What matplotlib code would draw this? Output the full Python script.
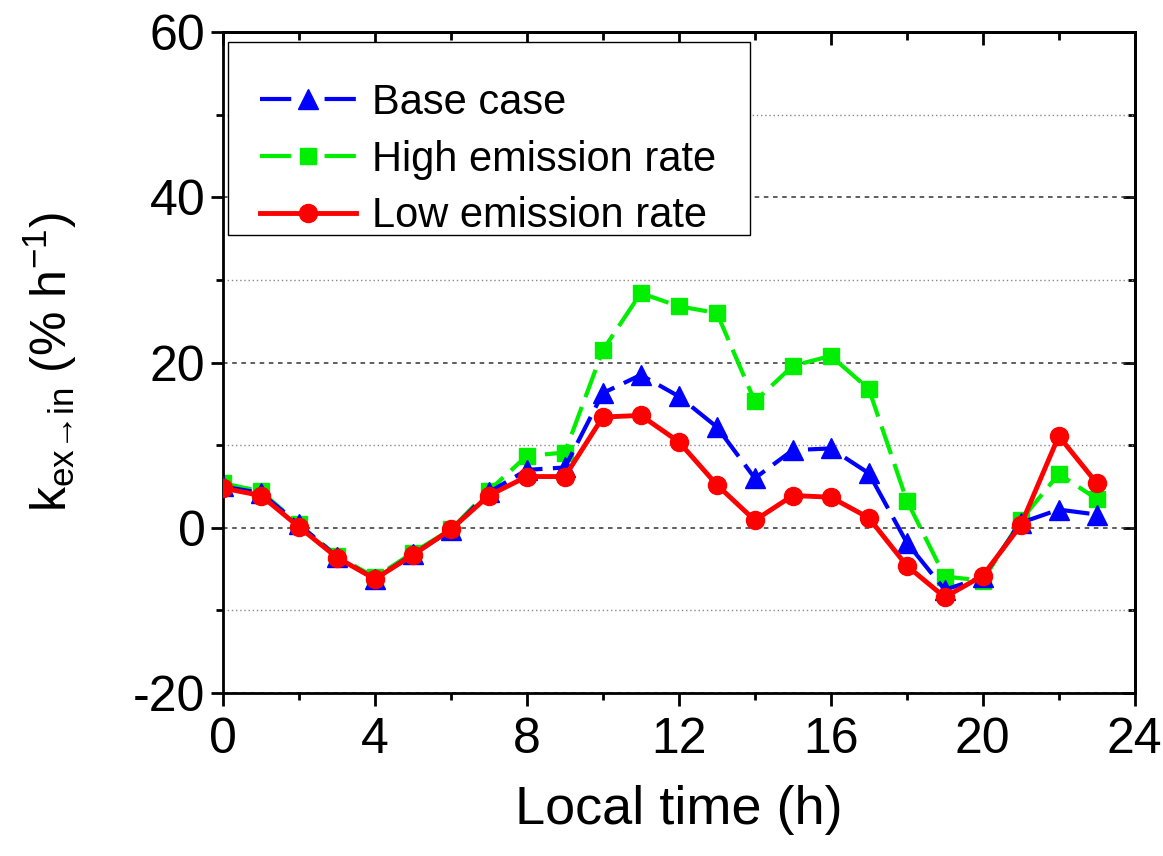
import matplotlib
matplotlib.use("Agg")
import matplotlib.pyplot as plt
from matplotlib.patches import Rectangle
from matplotlib.ticker import MultipleLocator

plt.rcParams['font.family'] = ['Liberation Sans', 'DejaVu Sans']
plt.rcParams['mathtext.fontset'] = 'custom'
plt.rcParams['mathtext.rm'] = 'Liberation Sans'
plt.rcParams['mathtext.it'] = 'Liberation Sans'
plt.rcParams['axes.unicode_minus'] = False

hours = list(range(24))

base_case = [5.0, 4.2, 0.4, -3.5, -6.2, -3.2, -0.3, 4.3, 7.0, 7.3, 16.3, 18.5,
             15.9, 12.2, 6.0, 9.4, 9.6, 6.6, -1.8, -7.5, -6.0, 0.6, 2.2, 1.6]
high_rate = [5.4, 4.4, 0.4, -3.4, -6.0, -3.0, -0.2, 4.5, 8.7, 9.1, 21.5, 28.4,
             26.8, 26.0, 15.3, 19.6, 20.8, 16.8, 3.3, -5.9, -6.4, 0.9, 6.5, 3.5]
low_rate = [4.8, 3.9, 0.1, -3.6, -6.2, -3.3, -0.2, 3.9, 6.2, 6.2, 13.4, 13.6,
            10.4, 5.2, 0.9, 3.9, 3.7, 1.2, -4.6, -8.4, -5.8, 0.3, 11.1, 5.4]

fig = plt.figure(figsize=(11.63, 8.56), dpi=100)
ax = fig.add_axes([0.1917, 0.1904, 0.784, 0.7722])

ax.plot(hours, base_case, color='#0000ff', lw=3, dashes=(7, 2.5), marker='^',
        ms=14, label='Base case', zorder=3)
ax.plot(hours, high_rate, color='#00ee00', lw=3, dashes=(7, 2.5), marker='s',
        ms=11.5, label='High emission rate', zorder=2)
ax.plot(hours, low_rate, color='#ff0000', lw=3.5, marker='o', ms=13,
        label='Low emission rate', zorder=4)

ax.set_xlim(0, 24)
ax.set_ylim(-20, 60)
ax.xaxis.set_major_locator(MultipleLocator(4))
ax.xaxis.set_minor_locator(MultipleLocator(2))
ax.yaxis.set_major_locator(MultipleLocator(20))
ax.yaxis.set_minor_locator(MultipleLocator(10))

ax.grid(which='major', axis='y', ls=(0, (3, 3)), color='#333333', lw=1.1)
ax.grid(which='minor', axis='y', ls=(0, (1, 2)), color='#888888', lw=1.0)
ax.set_axisbelow(True)

ax.tick_params(which='both', direction='out', width=2, labelsize=36,
               top=False, right=False)
ax.tick_params(which='major', length=9)
ax.tick_params(which='minor', length=5)
ax.tick_params(axis='x', pad=8)

sec_x = ax.secondary_xaxis('top')
sec_x.xaxis.set_major_locator(MultipleLocator(4))
sec_x.xaxis.set_minor_locator(MultipleLocator(2))
sec_x.tick_params(which='both', direction='in', width=2, labeltop=False)
sec_x.tick_params(which='major', length=9)
sec_x.tick_params(which='minor', length=6)
sec_y = ax.secondary_yaxis('right')
sec_y.yaxis.set_major_locator(MultipleLocator(20))
sec_y.yaxis.set_minor_locator(MultipleLocator(10))
sec_y.tick_params(which='both', direction='in', width=2, labelright=False)
sec_y.tick_params(which='major', length=9)
sec_y.tick_params(which='minor', length=5)
for s in ax.spines.values():
    s.set_linewidth(2)
for s in list(sec_x.spines.values()) + list(sec_y.spines.values()):
    s.set_linewidth(2)

ax.set_xlabel('Local time (h)', fontsize=39, labelpad=16)
ax.set_ylabel('k$_{\\mathrm{ex\u2192in}}$ (% h$^{\\mathrm{-1}}$)', fontsize=36)
ax.yaxis.set_label_coords(-0.158, 0.5)

# legend box drawn separately (Origin-style: more padding on top)
ax.add_patch(Rectangle((0.0055, 0.693), 0.5725, 0.292, transform=ax.transAxes,
                       facecolor='white', edgecolor='black', lw=1.0, zorder=5))
leg = ax.legend(loc='upper left', bbox_to_anchor=(0.0406, 0.923), fontsize=30,
                frameon=False, handlelength=2.3, handletextpad=0.4,
                borderaxespad=0.0, borderpad=0.0, labelspacing=0.4)
leg.set_zorder(6)
# one long dash on each side of the marker, like the original legend
for ln in leg.get_lines()[:2]:
    ln.set_dashes((7.5, 8))

fig.savefig('out.png', dpi=100)
